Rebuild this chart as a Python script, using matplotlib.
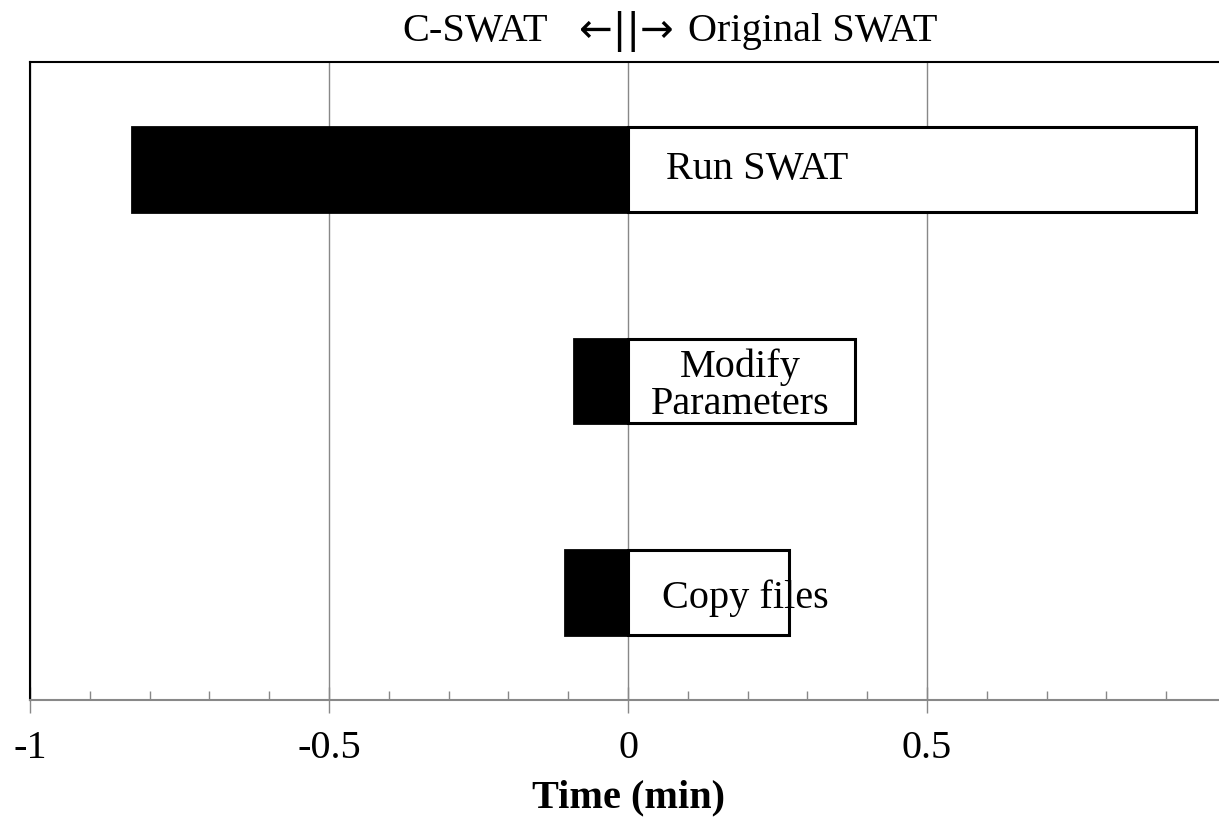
import matplotlib
matplotlib.use('Agg')
import matplotlib.pyplot as plt
from matplotlib.ticker import MultipleLocator
import numpy as np

# time spent per step (min): C-SWAT drawn to the left, original SWAT to the right
steps = ['Run SWAT', 'Modify\nParameters', 'Copy files']
cswat = [-0.83, -0.09, -0.105]
original = [0.95, 0.38, 0.27]
label_x = [0.216, 0.187, 0.196]

plt.rcParams['font.family'] = ['Liberation Serif', 'DejaVu Serif']
fs = 29

fig = plt.figure(figsize=(12.19, 8.19), dpi=100)
# axes runs a little past the right edge of the picture, like the original
ax = fig.add_axes([30 / 1219, 119 / 819, 1196 / 1219, 638 / 819])

y = np.arange(len(steps))
ax.barh(y, cswat, height=0.40, color='black', edgecolor='black', linewidth=2, zorder=3)
ax.barh(y, original, height=0.40, color='white', edgecolor='black', linewidth=2.2, zorder=3)

for yi, name, lx in zip(y, steps, label_x):
    dy = 0.03 if yi == 2 else (0.02 if yi == 1 else 0.0)
    ax.text(lx, yi + dy, name, ha='center', va='center', fontsize=fs,
            linespacing=1.0, zorder=4)

ax.set_xlim(-1, 1)
ax.set_ylim(2.51, -0.51)
ax.set_yticks([])

ax.xaxis.set_major_locator(MultipleLocator(0.5))
ax.xaxis.set_minor_locator(MultipleLocator(0.1))
ax.set_xticks([-1, -0.5, 0, 0.5, 1])
ax.set_xticklabels(['-1', '-0.5', '0', '0.5', '1'], fontsize=fs)
ax.tick_params(axis='x', which='major', direction='inout', length=19, width=1,
               color='#888888', pad=12)
ax.tick_params(axis='x', which='minor', direction='in', length=6.5, width=1,
               color='#888888')
ax.grid(axis='x', which='major', color='#888888', linewidth=1, zorder=0)

ax.spines['bottom'].set_color('#888888')
ax.spines['bottom'].set_linewidth(1.5)
ax.spines['left'].set_linewidth(1.5)
ax.spines['top'].set_linewidth(1.5)
ax.spines['right'].set_visible(False)

ax.set_xlabel('Time (min)', fontsize=fs, fontweight='bold', labelpad=9)

# title in three pieces so the arrows can come from a font with longer ones
ty = 1 - 32 / 819
fig.text(548 / 1219, ty, 'C-SWAT', ha='right', va='center', fontsize=fs)
fig.text(626 / 1219, ty, '←||→', ha='center', va='center', fontsize=fs,
         family=['DejaVu Sans'])
fig.text(688 / 1219, ty, 'Original SWAT', ha='left', va='center', fontsize=fs)

fig.savefig('out.png', dpi=100)
